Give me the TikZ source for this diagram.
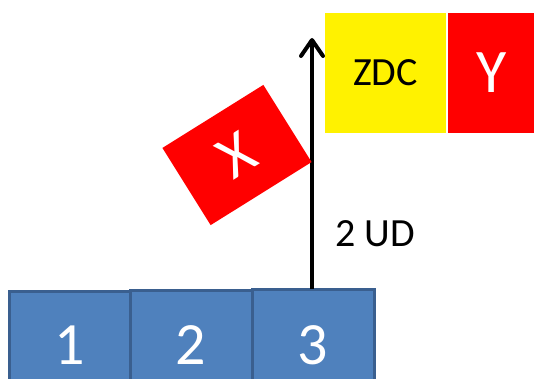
\documentclass[tikz,border=0pt]{standalone}
\usepackage{fontspec}
\setmainfont{Carlito}
\usetikzlibrary{arrows.meta}
\definecolor{boxblue}{HTML}{4F81BD}
\definecolor{boxedge}{HTML}{3A5F8F}
\begin{document}
\begin{tikzpicture}[x=1pt,y=-1pt,
  blkbox/.style={draw=boxedge,line width=3pt,fill=boxblue},
  digit/.style={text=white,font=\fontsize{60}{60}\selectfont},
  lbl/.style={font=\fontsize{40}{40}\selectfont}]
\useasboundingbox (0,0) rectangle (534,379);
\begin{scope}
\clip (0,0) rectangle (534,379);
\draw[blkbox] (9,291) rectangle (130,400);
\draw[blkbox] (130,290) rectangle (252,400);
\draw[blkbox] (252,289) rectangle (374,400);
\end{scope}
\node[digit] (n1) at (70,345) {1};
\node[digit] (n2) at (191,345) {2};
\node[digit] (n3) at (313,345) {3};
\coordinate (abot) at (312,289);
\coordinate (atop) at (312,38);
\draw[line width=4pt,-{Straight Barb[length=16pt,width=22pt,line width=4pt,round]}] (abot) -- (atop);
\node[lbl] (ud) at (375,234) {2 UD};
\node[fill=yellow,minimum width=121pt,minimum height=120pt,inner sep=0pt,lbl] (zdc) at (385.5,73) {ZDC};
\node[fill=red,minimum width=86pt,minimum height=120pt,inner sep=0pt,text=white,font=\fontsize{62}{62}\selectfont,anchor=west] (y) at (448,73) {Y};
\node[fill=red,minimum width=119pt,minimum height=91pt,inner sep=0pt,rotate=32,text=white,font=\fontsize{62}{62}\selectfont] (x) at (237,155) {X};
\end{tikzpicture}
\end{document}
